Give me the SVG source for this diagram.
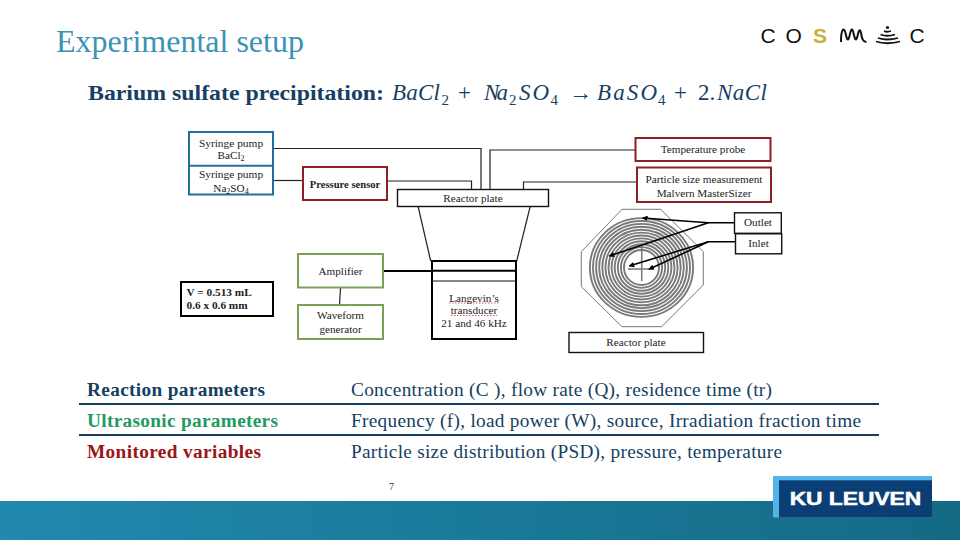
<svg xmlns="http://www.w3.org/2000/svg" width="960" height="540" viewBox="0 0 960 540">
<style>
text{font-family:"Liberation Serif","Times New Roman",serif;fill:#222}
.d{font-size:11.2px;text-anchor:middle}
.w{fill:#fff;stroke:#111;stroke-width:1.4}
.k{fill:#fff;stroke:#000;stroke-width:2}
.r{fill:#fff;stroke:#8e1f26;stroke-width:2}
.g{fill:#fff;stroke:#7c9f58;stroke-width:2}
.b{fill:#fff;stroke:#1f6f9f;stroke-width:2}
.c{fill:none;stroke:#222;stroke-width:1.2}
.a{fill:none;stroke:#000;stroke-width:1.6}
.t{font-size:19.3px;fill:#143f62}
.h{font-size:19.3px;font-weight:bold}
.e{font-size:23px;font-style:italic;fill:#173f63}
.n{font-size:23px;fill:#173f63}
.s{font-size:15px;fill:#173f63}
.ring{fill:none;stroke:#7a7a7a;stroke-width:1.9}
.lg{font-family:"Liberation Sans",Arial,sans-serif;font-size:21px;fill:#111}
</style>
<defs>
<marker id="ah" viewBox="0 0 8 8" refX="7" refY="4" markerWidth="3.500" markerHeight="3.500" orient="auto-start-reverse"><path d="M0 0L8 4L0 8Z" fill="#000"/></marker>
<linearGradient id="bar" x1="0" x2="1" y1="0" y2="0"><stop offset="0" stop-color="#2189ae"/><stop offset="1" stop-color="#136a85"/></linearGradient>
</defs>
<rect width="960" height="540" fill="#fff"/>
<rect y="501" width="960" height="39" fill="url(#bar)"/>

<text x="56" y="52" font-size="32" style="fill:#3a93b5">Experimental setup</text>

<g id="cosmic-logo">
<text class="lg" x="760.500" y="42.500">C</text>
<text class="lg" x="785.500" y="42.500">O</text>
<text class="lg" x="813" y="42.500" style="fill:#c9ae3c;font-weight:bold">S</text>
<path d="M841 42C841 28 844 27 845.500 33C847 40 848 42 849.500 36C851 29 852 27 853.500 33C855 40 856 42 857.500 36C859 29 860 29 861 33C862 39 863 42 866.500 42" fill="none" stroke="#111" stroke-width="2"/>
<g fill="none" stroke="#111" stroke-width="1.800"><path d="M876 41.500Q887 45 900 41.500"/><path d="M878 38Q887 41 898 38"/><path d="M880.500 34.500Q887 37 895 34.500"/><path d="M884 31Q887 32.500 891 31"/></g>
<circle cx="887.500" cy="27.500" r="1.600" fill="#111"/>
<text class="lg" x="909.500" y="42.500">C</text>
</g>

<g id="heading">
<text x="88" y="100" font-size="22" font-weight="bold" textLength="296" lengthAdjust="spacingAndGlyphs" style="fill:#173f63">Barium sulfate precipitation:</text>
<text class="e" x="392" y="100" textLength="48" lengthAdjust="spacing">BaCl</text><text class="s" x="441.500" y="105">2</text>
<text class="n" x="458" y="100">+</text>
<text class="e" x="484" y="100" textLength="24" lengthAdjust="spacing">Na</text><text class="s" x="509" y="105">2</text><text class="e" x="519" y="100" textLength="30" lengthAdjust="spacing">SO</text><text class="s" x="550.500" y="105">4</text>
<text class="n" x="569" y="100">→</text>
<text class="e" x="597" y="100" textLength="60" lengthAdjust="spacing">BaSO</text><text class="s" x="658" y="105">4</text>
<text class="n" x="674" y="100">+</text>
<text class="n" x="698" y="100">2.</text>
<text class="e" x="717" y="100" textLength="50" lengthAdjust="spacing">NaCl</text>
</g>

<g id="connectors">
<path class="c" d="M273 148.500H481V189"/>
<path class="c" d="M490 189V150H635.500"/>
<path class="c" d="M273 180.500H303"/>
<path class="c" d="M387 181H471.500V189"/>
<path class="c" d="M523.500 189V182H636.500"/>
<path class="c" d="M418 206L430.700 261"/>
<path class="c" d="M530.300 206L516.700 261"/>
<path class="a" d="M383 271H432" style="stroke-width:2"/>
<path class="c" d="M340.500 288L339.500 305"/>
</g>

<g id="syringe-pumps">
<rect class="b" x="189" y="132" width="84" height="62.500"/>
<path d="M189 165.700H273" stroke="#1f6f9f" stroke-width="2"/>
<text class="d" x="231" y="146.700" style="font-size:11.400px">Syringe pump</text>
<text class="d" x="231" y="159">BaCl<tspan font-size="8" dy="2">2</tspan></text>
<text class="d" x="231" y="178" style="font-size:11.400px">Syringe pump</text>
<text class="d" x="231" y="191.700">Na<tspan font-size="8" dy="2">2</tspan><tspan dy="-2">SO</tspan><tspan font-size="8" dy="2">4</tspan></text>
</g>
<g id="pressure-sensor"><rect class="r" x="303" y="167" width="84" height="33"/><text class="d" x="345" y="187.700" style="font-size:10.600px;font-weight:bold">Pressure sensor</text></g>
<g id="reactor-plate-top"><rect class="w" x="397.500" y="189.500" width="151" height="17"/><text class="d" x="473" y="201.700">Reactor plate</text></g>
<g id="temperature-probe"><rect class="r" x="635.500" y="138" width="135" height="23"/><text class="d" x="703" y="153.300">Temperature probe</text></g>
<g id="particle-size"><rect class="r" x="637" y="167.500" width="134" height="34.500"/><text class="d" x="704" y="182.700">Particle size measurement</text><text class="d" x="704" y="196.700">Malvern MasterSizer</text></g>
<g id="amplifier"><rect class="g" x="298" y="254" width="85" height="33.500"/><text class="d" x="340.500" y="275">Amplifier</text></g>
<g id="waveform-generator"><rect class="g" x="298" y="305" width="85" height="34"/><text class="d" x="340.500" y="318.700">Waveform</text><text class="d" x="340.500" y="332.700">generator</text></g>
<g id="volume"><rect class="k" x="181" y="282" width="92" height="34"/><text x="186.500" y="296" font-size="11.300" font-weight="bold">V = 0.513 mL</text><text x="186.500" y="309.300" font-size="11.300" font-weight="bold">0.6 x 0.6 mm</text></g>
<g id="transducer">
<rect class="k" x="432" y="261" width="84" height="78"/>
<path d="M432 270.700H516" stroke="#000" stroke-width="2"/><path d="M432 281H516" stroke="#111" stroke-width="1"/>
<text class="d" x="474" y="301.700">Langevin’s</text><text class="d" x="474" y="314">transducer</text><text class="d" x="474" y="326.700">21 and 46 kHz</text>
<path d="M449 303H499M451 315.500H497" stroke="#c33" stroke-width="0.800" stroke-dasharray="1.500 1.500" fill="none"/>
</g>

<g id="spiral-plate">
<path d="M622 209.300H660.700L703.300 251.700V285L661.700 326.700H622L581.300 286.700V251.700Z" fill="#fff" stroke="#666" stroke-width="0.900"/>
<ellipse class="ring" cx="641.500" cy="267.500" rx="17.500" ry="17.500"/><ellipse class="ring" cx="641.500" cy="267.500" rx="20.600" ry="20.400"/><ellipse class="ring" cx="641.500" cy="267.500" rx="23.700" ry="23.300"/><ellipse class="ring" cx="641.500" cy="267.500" rx="26.800" ry="26.200"/><ellipse class="ring" cx="641.500" cy="267.500" rx="29.900" ry="29.100"/><ellipse class="ring" cx="641.500" cy="267.500" rx="33" ry="32"/><ellipse class="ring" cx="641.500" cy="267.500" rx="36.100" ry="34.900"/><ellipse class="ring" cx="641.500" cy="267.500" rx="39.200" ry="37.800"/><ellipse class="ring" cx="641.500" cy="267.500" rx="42.300" ry="40.700"/><ellipse class="ring" cx="641.500" cy="267.500" rx="45.400" ry="43.600"/><ellipse class="ring" cx="641.500" cy="267.500" rx="48.500" ry="46.500"/><ellipse class="ring" cx="641.500" cy="267.500" rx="51.600" ry="49.400"/>
<path d="M641.700 245V281M628 269H650" stroke="#777" stroke-width="1.500" fill="none"/>
</g>
<g id="reactor-plate-bottom"><rect class="w" x="569" y="332.500" width="134.500" height="20"/><text class="d" x="636" y="346">Reactor plate</text></g>

<g id="port-connectors">
<path class="a" d="M734.500 222.700H708.300L642.700 218" marker-end="url(#ah)"/>
<path class="a" d="M708.300 222.700L609.300 256" marker-end="url(#ah)"/>
<path class="a" d="M735.500 241.700H708.300L629.300 266" marker-end="url(#ah)"/>
<path class="a" d="M708.300 241.700L649 269.300" marker-end="url(#ah)"/>
</g>
<g id="outlet"><rect class="w" x="734.500" y="212.800" width="46.800" height="20.500"/><text class="d" x="758" y="226">Outlet</text></g>
<g id="inlet"><rect class="w" x="735.500" y="233.800" width="46.200" height="20"/><text class="d" x="758.500" y="247.300">Inlet</text></g>

<g id="table">
<path d="M79 404H879M79 435H879" stroke="#143f62" stroke-width="2"/>
<text class="h" x="87" y="396" textLength="178" lengthAdjust="spacing" style="fill:#143f62">Reaction parameters</text>
<text class="h" x="87" y="427" textLength="191" lengthAdjust="spacing" style="fill:#239a5f">Ultrasonic parameters</text>
<text class="h" x="87" y="457.700" textLength="174" lengthAdjust="spacing" style="fill:#9c1418">Monitored variables</text>
<text class="t" x="351" y="396" textLength="421" lengthAdjust="spacing">Concentration (C ), flow rate (Q), residence time (tr)</text>
<text class="t" x="351" y="427" textLength="510" lengthAdjust="spacing">Frequency (f), load power (W), source, Irradiation fraction time</text>
<text class="t" x="351" y="457.700" textLength="431" lengthAdjust="spacing">Particle size distribution (PSD), pressure, temperature</text>
</g>
<text x="391.500" y="490" font-size="10" text-anchor="middle" style="fill:#143f62">7</text>

<g id="ku-leuven-logo">
<rect x="773" y="476" width="159" height="41.500" fill="#55b4e6"/>
<rect x="779" y="480.300" width="153" height="37.200" fill="#0b3e75"/>
<text x="789.700" y="505.300" font-size="17.500" font-weight="bold" textLength="131.500" lengthAdjust="spacingAndGlyphs" stroke="#fff" stroke-width="0.500" style="font-family:'Liberation Sans',Arial,sans-serif;fill:#fff">KU LEUVEN</text>
</g>
</svg>
